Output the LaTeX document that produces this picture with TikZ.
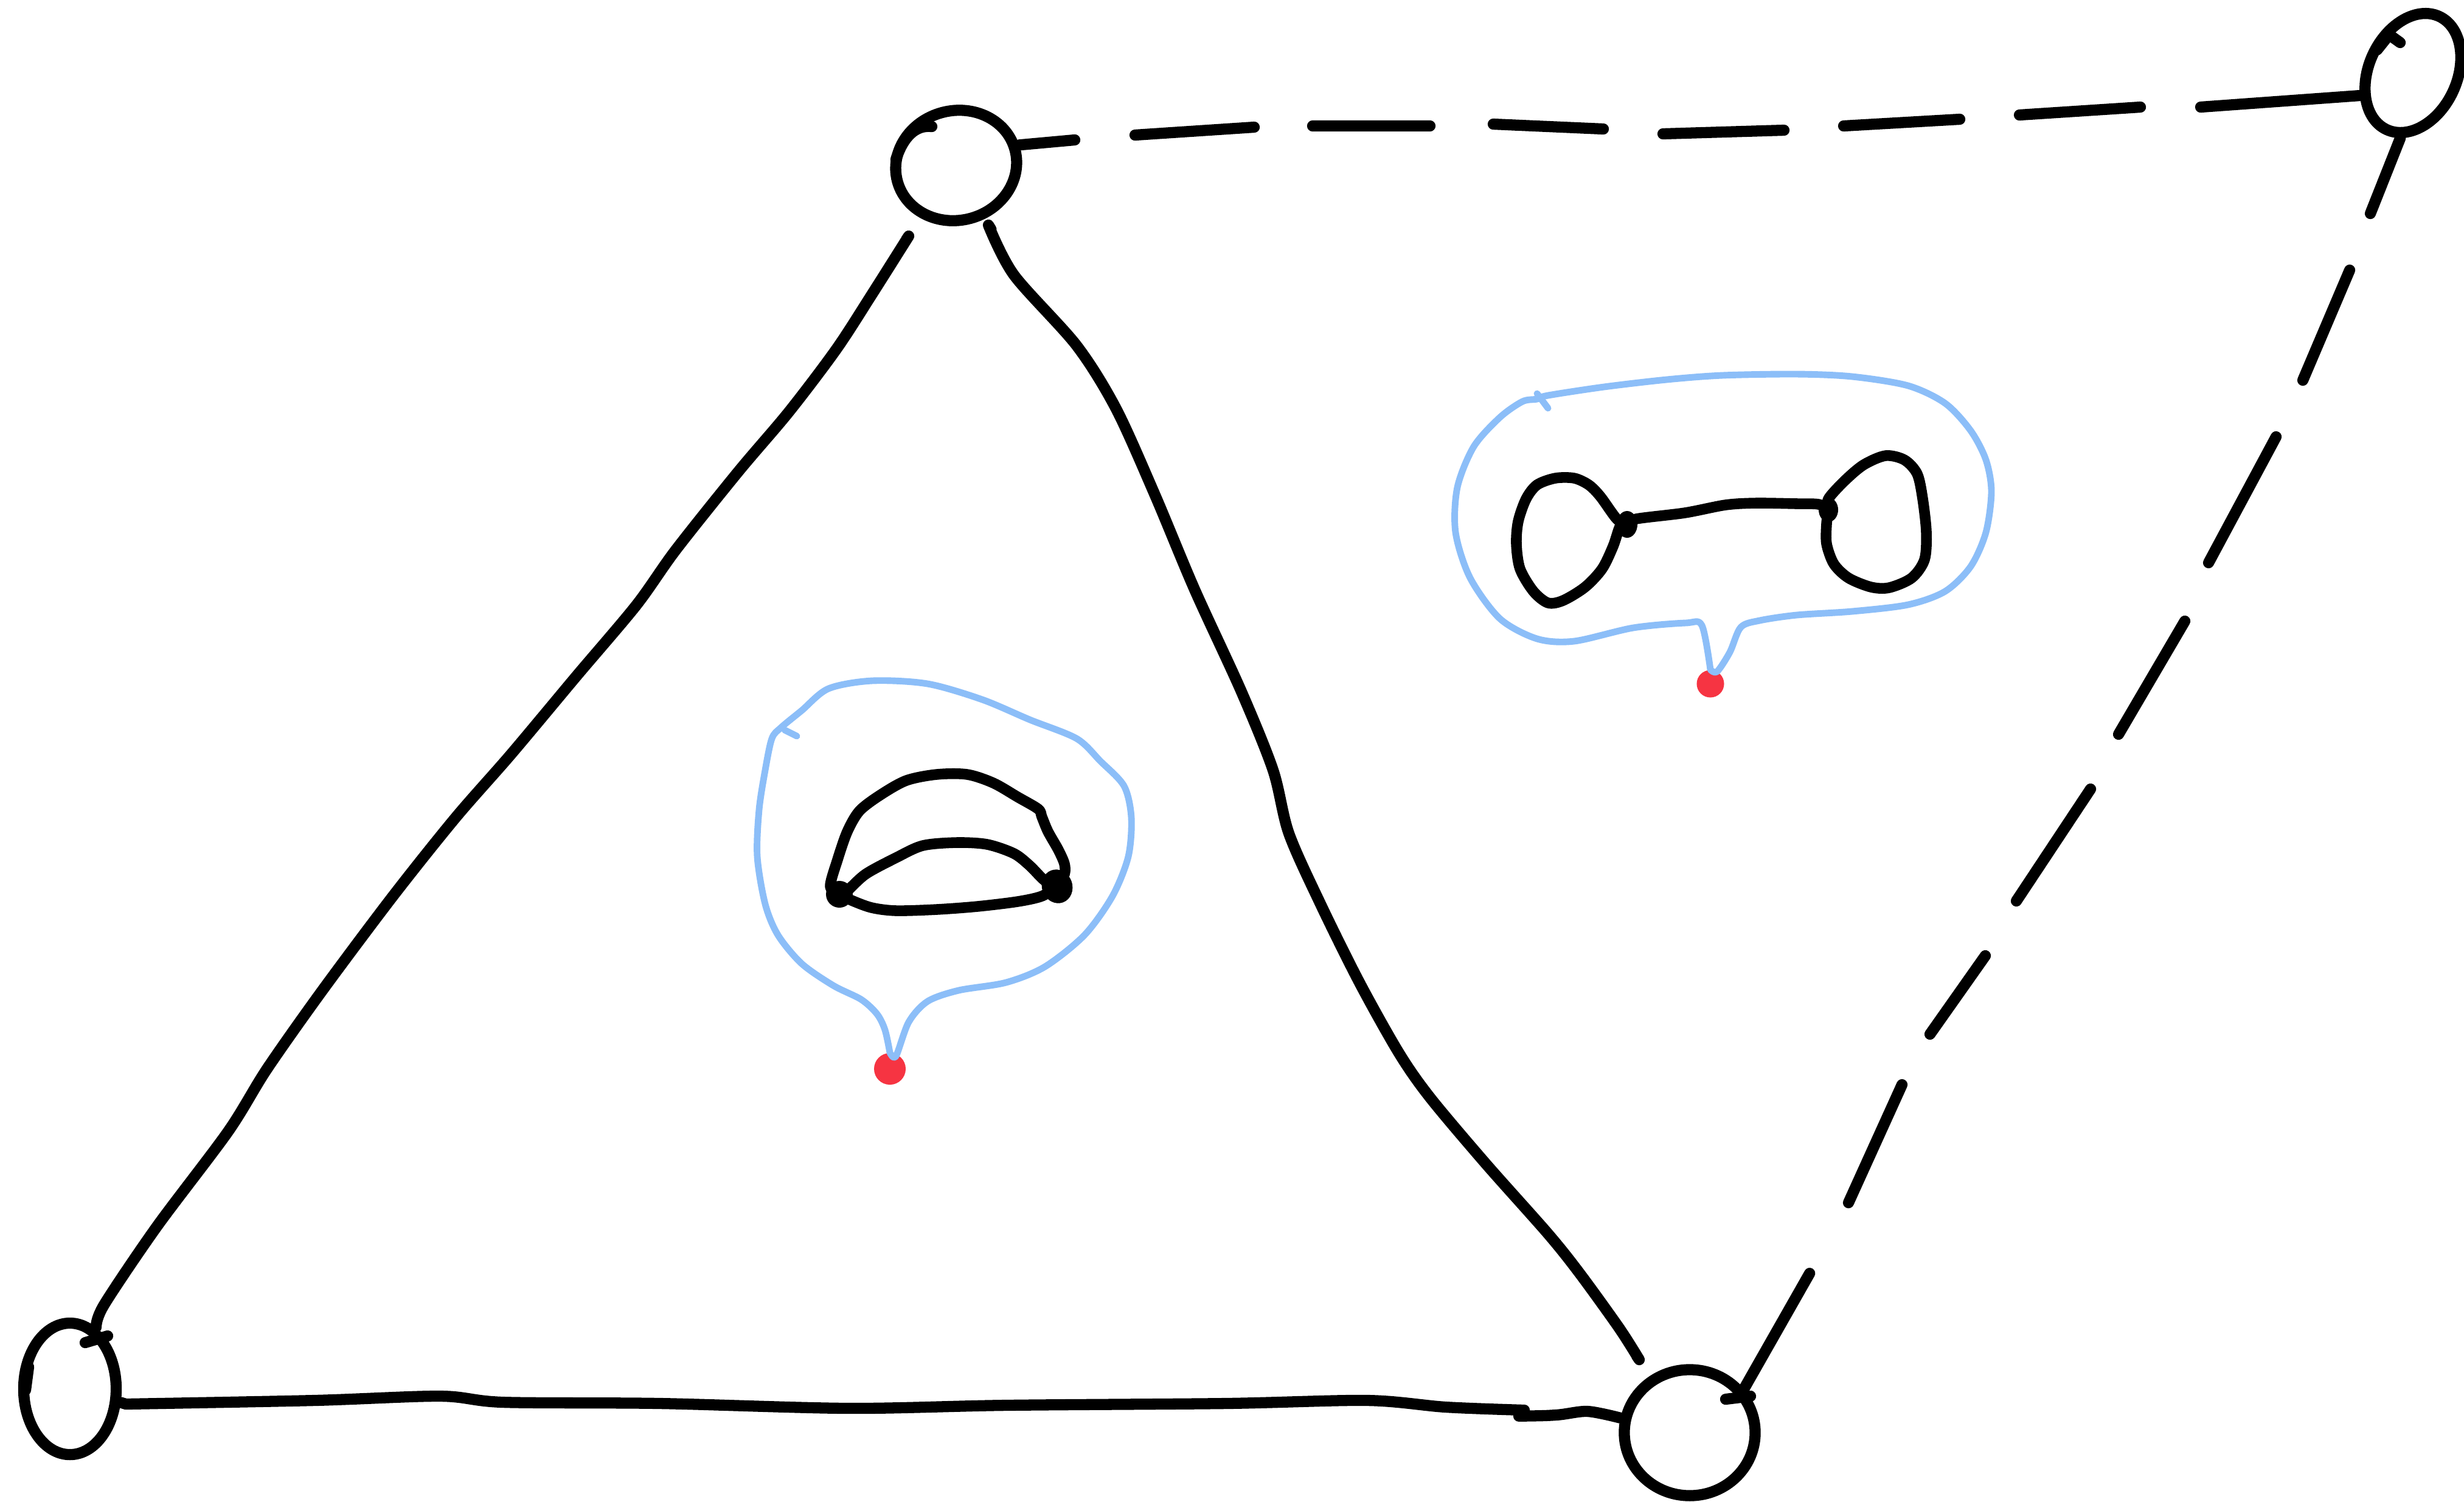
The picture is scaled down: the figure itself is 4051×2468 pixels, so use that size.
\documentclass[tikz,border=0pt]{standalone}
\usetikzlibrary{shapes.geometric}
\definecolor{loopblue}{RGB}{140,190,248}
\definecolor{dotred}{RGB}{246,52,66}
\begin{document}
\begin{tikzpicture}[x=0.01cm,y=-0.01cm,
  inkline/.style={line width=5.2pt, line cap=round, line join=round},
  innerline/.style={line width=5pt, line cap=round, line join=round},
  blob/.style={draw, ellipse, inner sep=0pt, line width=5.2pt},
  vdot/.style={fill, inner sep=0pt},
  reddot/.style={fill=dotred, circle, inner sep=0pt},
  bluepen/.style={draw=loopblue, line width=3.1pt, line cap=round, line join=round}]
\useasboundingbox (0,0) rectangle (4051,2468);
\clip (0,0) rectangle (4051,2468);

% ---- outer vertices
\node[blob, minimum width=2.0cm, minimum height=1.8cm, rotate=15] (tm) at (1572,272) {};
\node[blob, minimum width=1.45cm, minimum height=2.05cm, rotate=-25] (tr) at (3967,120) {};
\node[blob, minimum width=1.52cm, minimum height=2.16cm] (bl) at (115,2283) {};
\node[blob, minimum width=2.15cm, minimum height=2.07cm] (br) at (2778,2355) {};

% pen overlap marks
\draw[inkline] (1532,208) .. controls (1505,205) and (1485,225) .. (1473,262);
\draw[inkline] (3946,70) -- (3928,57) -- (3908,82);
\draw[inkline] (140,2207) -- (177,2196);
\draw[inkline] (47,2247) -- (42,2285);
\draw[inkline] (2837,2300) -- (2878,2295);

% ---- solid triangle edges
\draw[inkline, shorten <=0.43cm] (tm.221) -- plot[smooth] coordinates {(1494,388) (1434,483) (1375,574)
  (1297,677) (1214,775) (1111,904) (1046,995) (948,1111) (840,1240) (749,1344) (646,1473)
  (530,1628) (439,1757) (375,1860) (258,2016) (171,2145) (bl.67)};
\draw[inkline, shorten <=0.2cm, shorten >=0.4cm] (tm.-77) -- plot[smooth] coordinates {(1625,370) (1667,452)
  (1770,568) (1835,672) (1899,814) (1964,969) (2041,1137) (2093,1266) (2119,1370) (2171,1486)
  (2235,1615) (2300,1731) (2351,1804) (2442,1912) (2545,2028) (2597,2093) (2662,2183) (2695,2235)} -- (br.125);
\draw[inkline, shorten <=0.16cm] (bl.-15) -- plot[smooth] coordinates {(207,2308) (517,2302) (724,2295)
  (827,2305) (1085,2307) (1395,2315) (1654,2310) (2016,2307) (2248,2302) (2377,2313) (2506,2318)}
  plot[smooth] coordinates {(2481,2328) (2558,2326) (2610,2320) (br.168)};

% ---- dashed edges
\draw[inkline] (tm.3) -- (1767,230) (1866,222) -- (2062,209) (2158,207) -- (2351,207)
  (2455,204) -- (2636,212) (2734,220) -- (2933,214) (3031,207) -- (3222,196)
  (3320,189) -- (3519,176) (3618,176) -- (tr.228);
\draw[inkline, shorten <=0.3cm] (tr.-76) -- (3897,351) (3863,444) -- (3786,625)
  (3742,718) -- (3631,925) (3592,1021) -- (3483,1207) (3437,1297) -- (3315,1481)
  (3264,1571) -- (3173,1700) (3127,1783) -- (3039,1977) (2990,2067) -- (br.39);

% ---- centre figure
\node[reddot, minimum size=0.52cm] (rd1) at (1463,1757) {};
\draw[bluepen] plot[smooth] coordinates {(rd1.north) (1455,1693) (1442,1667) (1416,1643) (1370,1620)
  (1318,1584) (1279,1537) (1258,1486) (1245,1408) (1248,1331) (1258,1266) (1269,1214) (1284,1196)
  (1318,1168) (1362,1132) (1434,1119) (1525,1124) (1615,1150) (1693,1183) (1770,1214) (1809,1251)
  (1848,1292) (1860,1344) (1855,1408) (1829,1473) (1783,1537) (1718,1589) (1654,1615) (1576,1628)
  (1525,1646) (1494,1680) (1473,1736) (rd1.north)};
\draw[bluepen] (1310,1210) -- (1290,1200);
\node[vdot, circle, minimum size=0.44cm] (c1) at (1380,1470) {};
\node[vdot, ellipse, minimum width=0.5cm, minimum height=0.56cm, rotate=20] (c2) at (1738,1457) {};
\draw[innerline] plot[smooth] coordinates {(c1.center) (1365,1457) (1377,1413) (1393,1367) (1413,1333)
  (1447,1307) (1490,1283) (1540,1273) (1590,1273) (1633,1287) (1673,1310) (1707,1330) (1713,1343)
  (1723,1367) (1740,1397) (1750,1420) (1750,1437) (c2.center)};
\draw[innerline] plot[smooth] coordinates {(c1.center) (1390,1467) (1423,1437) (1473,1410) (1517,1390)
  (1573,1385) (1623,1388) (1667,1403) (1693,1423) (1717,1447) (c2.center)};
\draw[innerline] plot[smooth] coordinates {(c1.center) (1400,1480) (1433,1492) (1473,1497) (1540,1495)
  (1607,1490) (1673,1482) (1713,1473) (c2.center)};

% ---- right figure
\node[reddot, minimum size=0.45cm] (rd2) at (2812,1124) {};
\draw[bluepen] plot[smooth] coordinates {(rd2.north) (2798,1028) (2771,1024) (2685,1032) (2588,1054)
  (2527,1050) (2466,1017) (2417,950) (2393,875) (2396,801) (2423,734) (2466,686) (2503,660)
  (2527,656) (2545,650) (2637,636) (2740,624) (2832,617) (2954,615) (3045,619) (3137,634)
  (3198,663) (3240,708) (3265,756) (3274,808) (3265,875) (3240,931) (3198,972) (3137,994)
  (3045,1005) (2954,1011) (2893,1020) (2862,1031) (2844,1072) (2823,1104) (rd2.north)};
\draw[bluepen] (2527,647) -- (2545,671);
\node[vdot, ellipse, minimum width=0.34cm, minimum height=0.44cm] (r1) at (2675,862) {};
\node[vdot, ellipse, minimum width=0.32cm, minimum height=0.40cm] (r2) at (3006,838) {};
\draw[innerline] plot[smooth] coordinates {(r1.center) (2658,853) (2631,816) (2612,797) (2588,786)
  (2557,786) (2527,797) (2509,820) (2496,857) (2493,894) (2499,935) (2521,972) (2545,991)
  (2570,987) (2606,965) (2634,935) (2652,898) (2664,864) (r1.center)};
\draw[innerline] plot[smooth] coordinates {(r2.center) (3006,820) (3033,790) (3064,764) (3100,749)
  (3131,756) (3152,779) (3161,820) (3167,875) (3164,920) (3143,950) (3106,966) (3076,965)
  (3039,950) (3015,927) (3003,894) (3003,861) (r2.center)};
\draw[innerline] plot[smooth] coordinates {(r1.center) (2690,853) (2770,843) (2837,830) (2887,827) (2954,828) (2990,829) (r2.center)};
\end{tikzpicture}
\end{document}
